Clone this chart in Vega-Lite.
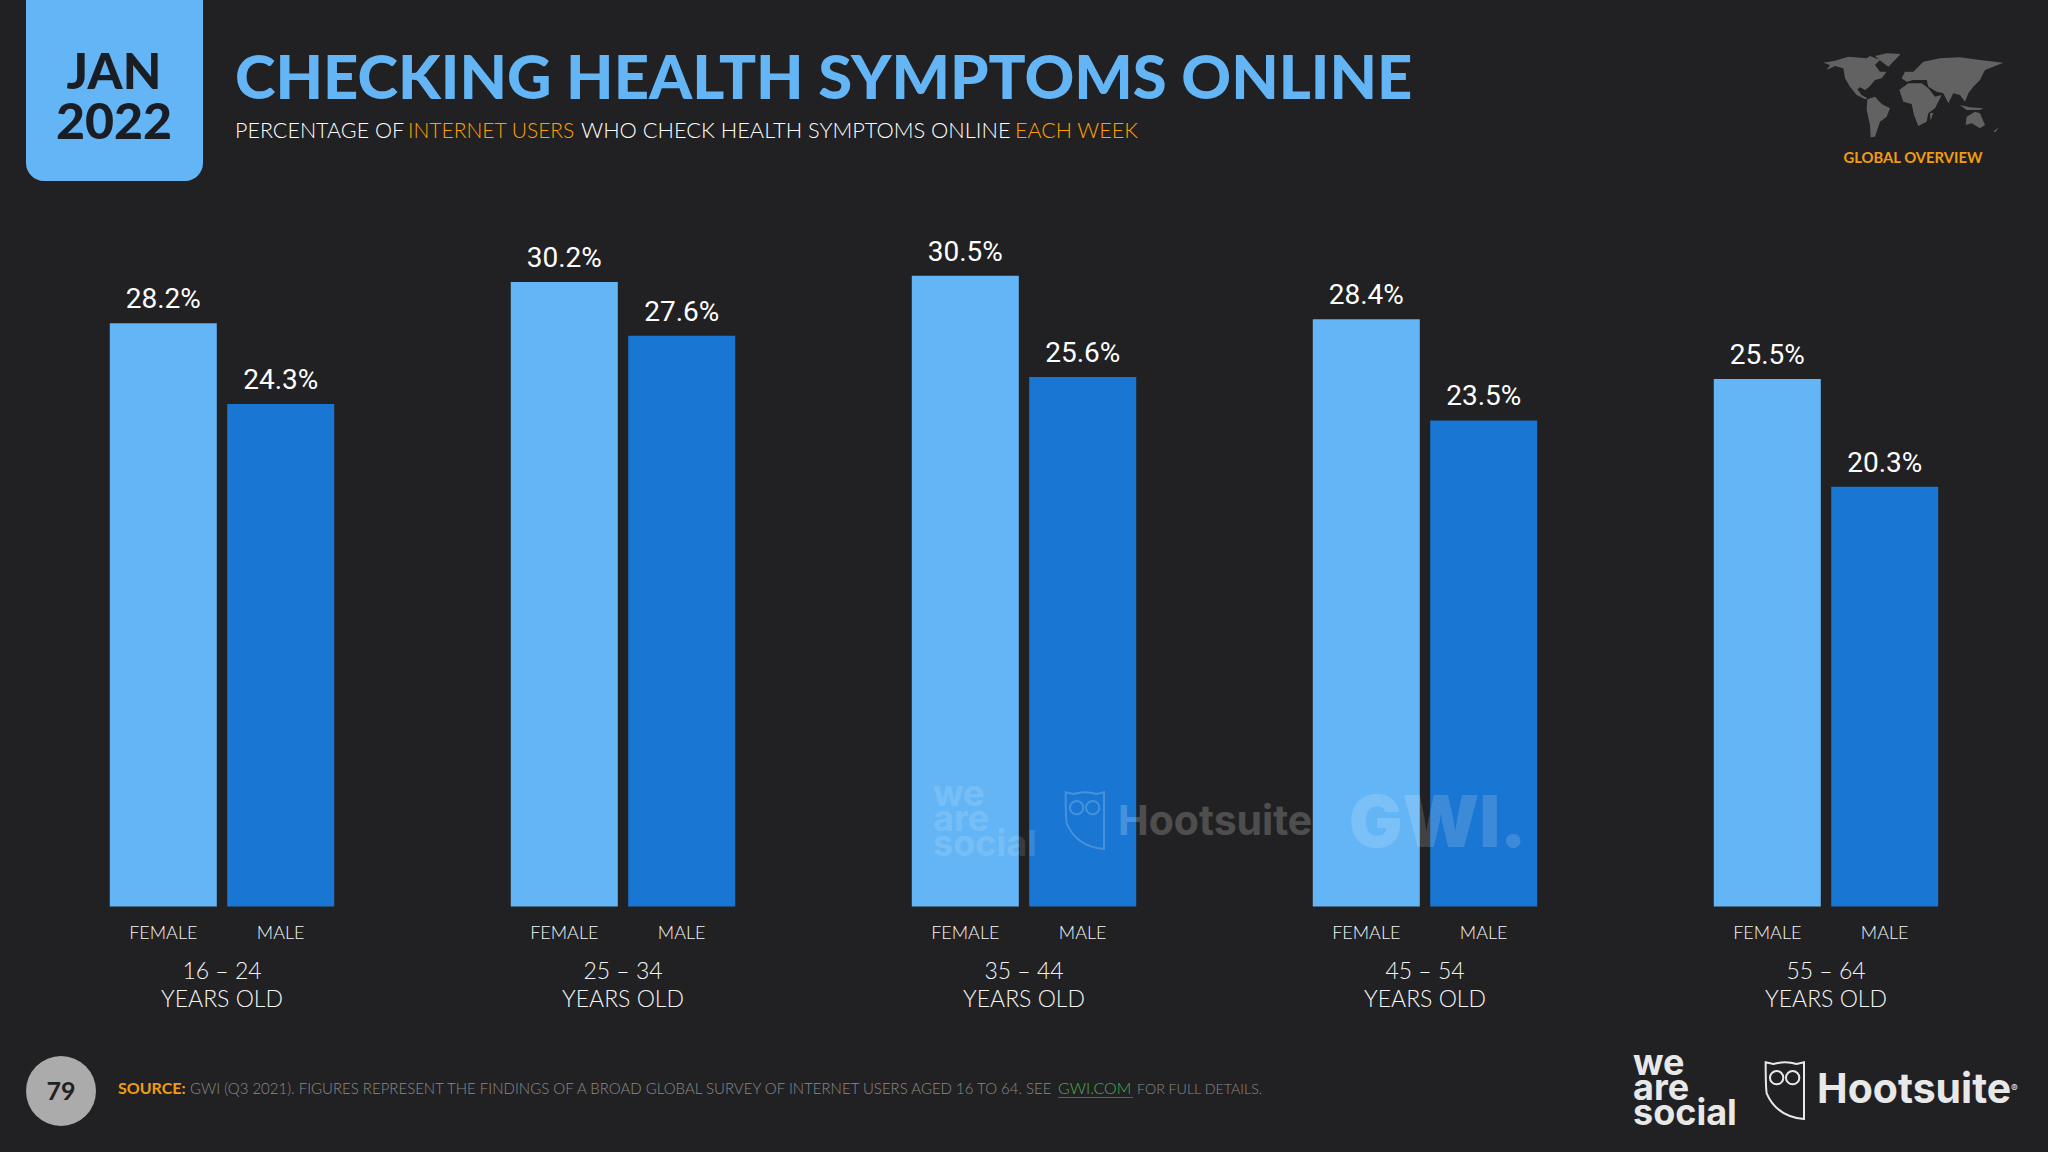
{"$schema":"https://vega.github.io/schema/vega-lite/v6.json","autosize":{"type":"fit","contains":"padding"},"width":2048,"height":1152,"padding":0,"background":"#212123","config":{"view":{"stroke":null}},
"datasets":{"bars":[
{"age":"16 – 24","gender":"FEMALE","value":28.2},{"age":"16 – 24","gender":"MALE","value":24.3},
{"age":"25 – 34","gender":"FEMALE","value":30.2},{"age":"25 – 34","gender":"MALE","value":27.6},
{"age":"35 – 44","gender":"FEMALE","value":30.5},{"age":"35 – 44","gender":"MALE","value":25.6},
{"age":"45 – 54","gender":"FEMALE","value":28.4},{"age":"45 – 54","gender":"MALE","value":23.5},
{"age":"55 – 64","gender":"FEMALE","value":25.5},{"age":"55 – 64","gender":"MALE","value":20.3}],
"groups":[{"age":"16 – 24","label":"16 – 24\nYEARS OLD"},{"age":"25 – 34","label":"25 – 34\nYEARS OLD"},{"age":"35 – 44","label":"35 – 44\nYEARS OLD"},{"age":"45 – 54","label":"45 – 54\nYEARS OLD"},{"age":"55 – 64","label":"55 – 64\nYEARS OLD"}]},
"resolve":{"scale":{"x":"shared","y":"shared"}},
"layer":[
{"data":{"name":"bars"},"mark":{"type":"bar"},"encoding":{
"x":{"field":"age","type":"nominal","axis":null,"sort":null,"scale":{"domain":["16 – 24","25 – 34","35 – 44","45 – 54","55 – 64"],"range":[21.5,2026.5],"paddingInner":0,"paddingOuter":0}},
"xOffset":{"field":"gender","type":"nominal","sort":null,"scale":{"domain":["FEMALE","MALE"],"paddingInner":0.0886,"paddingOuter":0.752}},
"y":{"field":"value","type":"quantitative","axis":null,"scale":{"domain":[0,43.83],"range":[906.5,0],"nice":false,"zero":false}},
"color":{"field":"gender","type":"nominal","legend":null,"scale":{"domain":["FEMALE","MALE"],"range":["#64B5F6","#1976D2"]}}}},
{"data":{"name":"bars"},"mark":{"type":"text","dy":-15,"baseline":"alphabetic","align":"center","font":"Roboto","fontSize":28,"fontWeight":400,"color":"#ffffff"},"transform":[{"calculate":"format(datum.value,'.1f')+'%'","as":"valueLabel"}],"encoding":{
"x":{"field":"age","type":"nominal","axis":null,"sort":null},
"xOffset":{"field":"gender","type":"nominal","sort":null},
"y":{"field":"value","type":"quantitative","axis":null},
"text":{"field":"valueLabel"}}},
{"data":{"name":"bars"},"mark":{"type":"text","dy":32.5,"baseline":"alphabetic","align":"center","font":"Lato","fontWeight":300,"fontSize":18,"color":"#f4f4f4"},"encoding":{
"x":{"field":"age","type":"nominal","axis":null,"sort":null},
"xOffset":{"field":"gender","type":"nominal","sort":null},
"y":{"datum":0},
"text":{"field":"gender"}}},
{"data":{"name":"groups"},"mark":{"type":"text","dy":72.5,"baseline":"alphabetic","align":"center","font":"Lato","fontWeight":300,"fontSize":23,"lineBreak":"\n","lineHeight":28,"color":"#f4f4f4"},"encoding":{
"x":{"field":"age","type":"nominal","axis":null,"sort":null},
"y":{"datum":0},
"text":{"field":"label"}}},
{"data":{"values":[{"k":"box"}]},"mark":{"type":"rect","x":26,"x2":203,"y":0,"y2":181,"cornerRadiusBottomLeft":18,"cornerRadiusBottomRight":18,"color":"#64B5F6"}},
{"data":{"values":[{"label":"JAN"}]},"mark":{"type":"text","x":114,"y":89,"align":"center","baseline":"alphabetic","font":"Lato","fontWeight":900,"fontSize":50,"color":"#1a1e24"},"encoding":{"text":{"field":"label"}}},
{"data":{"values":[{"label":"2022"}]},"mark":{"type":"text","x":114,"y":139,"align":"center","baseline":"alphabetic","font":"Lato","fontWeight":900,"fontSize":50,"color":"#1a1e24"},"encoding":{"text":{"field":"label"}}},
{"data":{"values":[{"label":"CHECKING HEALTH SYMPTOMS ONLINE"}]},"mark":{"type":"text","x":235,"y":99,"align":"left","baseline":"alphabetic","font":"Lato","fontWeight":900,"fontSize":61.5,"color":"#64B5F6"},"encoding":{"text":{"field":"label"}}},
{"data":{"values":[{"label":"PERCENTAGE OF"}]},"mark":{"type":"text","x":235,"y":138,"align":"left","baseline":"alphabetic","font":"Lato","fontWeight":300,"fontSize":21.5,"color":"#ffffff"},"encoding":{"text":{"field":"label"}}},
{"data":{"values":[{"label":"INTERNET USERS"}]},"mark":{"type":"text","x":408,"y":138,"align":"left","baseline":"alphabetic","font":"Lato","fontWeight":300,"fontSize":21,"color":"#FFA000"},"encoding":{"text":{"field":"label"}}},
{"data":{"values":[{"label":"WHO CHECK HEALTH SYMPTOMS ONLINE"}]},"mark":{"type":"text","x":581,"y":138,"align":"left","baseline":"alphabetic","font":"Lato","fontWeight":300,"fontSize":21.8,"color":"#ffffff"},"encoding":{"text":{"field":"label"}}},
{"data":{"values":[{"label":"EACH WEEK"}]},"mark":{"type":"text","x":1015,"y":138,"align":"left","baseline":"alphabetic","font":"Lato","fontWeight":300,"fontSize":21.5,"color":"#FFA000"},"encoding":{"text":{"field":"label"}}},
{"data":{"values":[{"k":"map"}]},"mark":{"type":"point","x":1780,"y":30,"size":0.4444,"filled":true,"opacity":1,"color":"#626262","shape":"M130,98L165,92L205,80L260,85L270,78L300,90L285,105L300,125L320,125L305,145L285,150L268,170L255,180L240,172L232,178L245,195L262,205L255,208L230,195L210,170L195,145L190,115L165,108L140,120L150,105ZM285,78L320,70L362,72L345,90L325,110L305,95ZM262,208L285,200L305,222L330,235L320,260L300,275L285,320L272,322L270,285L260,240ZM358,180L385,160L425,160L445,175L465,200L485,195L465,235L445,250L440,275L415,288L402,255L395,222L370,215ZM375,125L400,125L430,95L480,85L540,82L600,90L670,98L640,110L615,120L600,150L580,170L565,190L555,215L540,195L520,190L505,220L490,190L470,185L445,170L440,150L400,150L380,155L365,145ZM560,260L585,245L600,250L615,285L600,295L575,280L557,285ZM540,225L570,232L610,235L600,240L560,240ZM450,250L460,248L452,272ZM640,305L655,292L648,305Z"}},
{"data":{"values":[{"label":"GLOBAL OVERVIEW"}]},"mark":{"type":"text","x":1913,"y":163,"align":"center","baseline":"alphabetic","font":"Lato","fontWeight":"bold","fontSize":14.8,"color":"#F39C12"},"encoding":{"text":{"field":"label"}}},
{"data":{"values":[{"k":"circle"}]},"mark":{"type":"point","x":61,"y":1091,"size":4900,"shape":"circle","filled":true,"opacity":1,"color":"#ababab"}},
{"data":{"values":[{"label":"79"}]},"mark":{"type":"text","x":61,"y":1100,"align":"center","baseline":"alphabetic","font":"Lato","fontWeight":"bold","fontSize":25,"color":"#212123"},"encoding":{"text":{"field":"label"}}},
{"data":{"values":[{"label":"SOURCE:"}]},"mark":{"type":"text","x":118,"y":1094,"align":"left","baseline":"alphabetic","font":"Lato","fontWeight":"bold","fontSize":16,"color":"#F39C12"},"encoding":{"text":{"field":"label"}}},
{"data":{"values":[{"label":"GWI (Q3 2021). FIGURES REPRESENT THE FINDINGS OF A BROAD GLOBAL SURVEY OF INTERNET USERS AGED 16 TO 64. SEE"}]},"mark":{"type":"text","x":190,"y":1094,"align":"left","baseline":"alphabetic","font":"Lato","fontWeight":300,"fontSize":15,"color":"#8a8a8a"},"encoding":{"text":{"field":"label"}}},
{"data":{"values":[{"label":"GWI.COM"}]},"mark":{"type":"text","x":1058,"y":1094,"align":"left","baseline":"alphabetic","font":"Lato","fontWeight":300,"fontSize":16,"color":"#4CAF50"},"encoding":{"text":{"field":"label"}}},
{"data":{"values":[{"k":"underline"}]},"mark":{"type":"rect","x":1058,"x2":1133,"y":1097,"y2":1098,"color":"#4CAF50","opacity":0.6}},
{"data":{"values":[{"label":"FOR FULL DETAILS."}]},"mark":{"type":"text","x":1137,"y":1094,"align":"left","baseline":"alphabetic","font":"Lato","fontWeight":300,"fontSize":14.2,"color":"#8a8a8a"},"encoding":{"text":{"field":"label"}}},
{"data":{"values":[{"label":"we\nare\nsocial"}]},"mark":{"type":"text","x":1633,"y":1075,"align":"left","baseline":"alphabetic","lineBreak":"\n","lineHeight":25,"font":"Inter","fontWeight":"bold","fontSize":36,"color":"#e8e8e8"},"encoding":{"text":{"field":"label"}}},
{"data":{"values":[{"k":"owl"}]},"mark":{"type":"point","x":1600,"y":1030,"size":0.4444,"filled":false,"opacity":1,"color":"#e8e8e8","strokeWidth":2,"shape":"M497,97L520,102Q555,92 590,102L612,97L612,267Q530,260 500,190Q497,170 497,97ZM510,143A20,20 0 1 1 550,143A20,20 0 1 1 510,143ZM558,143A20,20 0 1 1 598,143A20,20 0 1 1 558,143Z"}},
{"data":{"values":[{"label":"Hootsuite"}]},"mark":{"type":"text","x":1817,"y":1103,"align":"left","baseline":"alphabetic","font":"Inter","fontWeight":"bold","fontSize":41,"color":"#e8e8e8"},"encoding":{"text":{"field":"label"}}},
{"data":{"values":[{"label":"®"}]},"mark":{"type":"text","x":2011,"y":1092,"align":"left","baseline":"alphabetic","font":"Inter","fontSize":10,"color":"#e8e8e8"},"encoding":{"text":{"field":"label"}}},
{"data":{"values":[{"label":"we\nare\nsocial"}]},"mark":{"type":"text","x":933,"y":806,"align":"left","baseline":"alphabetic","lineBreak":"\n","lineHeight":25,"font":"Inter","fontWeight":"bold","fontSize":36,"color":"#ffffff","opacity":0.12},"encoding":{"text":{"field":"label"}}},
{"data":{"values":[{"k":"owl2"}]},"mark":{"type":"point","x":900,"y":760,"size":0.4444,"filled":false,"opacity":0.2,"color":"#ffffff","strokeWidth":2,"shape":"M497,97L520,102Q555,92 590,102L612,97L612,267Q530,260 500,190Q497,170 497,97ZM510,143A20,20 0 1 1 550,143A20,20 0 1 1 510,143ZM558,143A20,20 0 1 1 598,143A20,20 0 1 1 558,143Z"}},
{"data":{"values":[{"label":"Hootsuite"}]},"mark":{"type":"text","x":1118,"y":835,"align":"left","baseline":"alphabetic","font":"Inter","fontWeight":"bold","fontSize":41,"color":"#ffffff","opacity":0.2},"encoding":{"text":{"field":"label"}}},
{"data":{"values":[{"label":"GWI."}]},"mark":{"type":"text","x":1349,"y":847,"align":"left","baseline":"alphabetic","font":"Inter","fontWeight":900,"fontSize":71,"color":"#ffffff","opacity":0.15},"encoding":{"text":{"field":"label"}}}
]}
